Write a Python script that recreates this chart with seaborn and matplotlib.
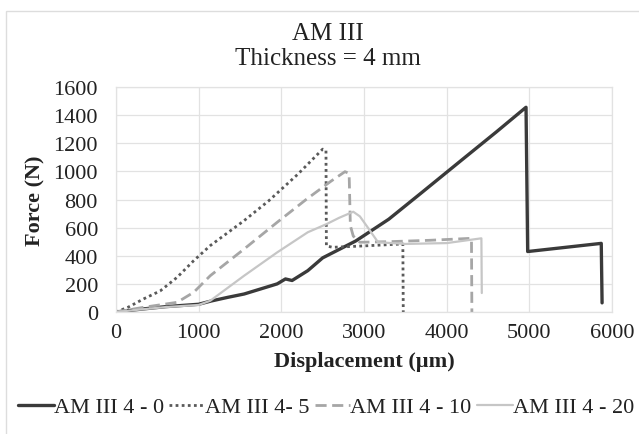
import pandas as pd
import seaborn as sns
import matplotlib.pyplot as plt
from matplotlib.lines import Line2D
from matplotlib.patches import Rectangle

# Datos (desplazamiento en um, fuerza en N)
x_0 = [0, 300, 600, 1000, 1150, 1350, 1550, 1750, 1950, 2050, 2130, 2320, 2500, 2900, 3300, 3700, 4170, 4600, 4960, 4980, 5870, 5880]
y_0 = [0, 20, 38, 55, 78, 104, 128, 164, 200, 235, 224, 294, 385, 505, 660, 850, 1075, 1280, 1456, 430, 488, 65]

x_5 = [0, 150, 330, 535, 740, 940, 1140, 1550, 1850, 2200, 2500, 2540, 2545, 2620, 3000, 3470, 3475]
y_5 = [0, 35, 92, 150, 247, 365, 472, 650, 792, 980, 1158, 1150, 470, 460, 470, 484, 0]

x_10 = [0, 330, 740, 940, 1140, 1550, 1950, 2300, 2600, 2770, 2820, 2835, 2870, 2950, 3300, 3800, 4300, 4305]
y_10 = [0, 33, 69, 140, 258, 448, 638, 800, 930, 998, 985, 614, 540, 496, 500, 510, 524, 0]

x_20 = [0, 300, 600, 1000, 1140, 1550, 1950, 2320, 2550, 2700, 2870, 2950, 3030, 3170, 3500, 4000, 4420, 4425]
y_20 = [0, 18, 35, 50, 80, 258, 424, 567, 626, 670, 713, 680, 614, 496, 484, 490, 524, 135]

series = ['AM III 4 - 0', 'AM III 4- 5', 'AM III 4 - 10', 'AM III 4 - 20']
xs = [x_0, x_5, x_10, x_20]
ys = [y_0, y_5, y_10, y_20]
colores = ['#3a3a3a', '#5a5a5a', '#a6a6a6', '#c6c6c6']
anchos = [2.4, 2.0, 2.0, 1.6]
estilos = [(None, None), (1, 1.2), (4, 2), (None, None)]

sns.set_theme(style='white')
plt.rcParams['font.family'] = ['Liberation Serif', 'DejaVu Serif']

fig = plt.figure(figsize=(6.39, 4.35), dpi=100)
ax = fig.add_axes([116 / 639, 1 - 313 / 435, 496 / 639, 225 / 435])

for nombre, x, y, c, lw, ls in zip(series, xs, ys, colores, anchos, estilos):
    df = pd.DataFrame({'Desplazamiento': x, 'Fuerza': y})
    sns.lineplot(data=df, x='Desplazamiento', y='Fuerza', ax=ax, sort=False,
                 estimator=None, color=c, linewidth=lw)
    l = ax.lines[-1]
    if ls[0] is not None:
        l.set_dashes(ls)

ax.set_xlim(0, 6000)
ax.set_ylim(0, 1600)
ax.set_xticks(range(0, 6001, 1000))
ax.set_yticks(range(0, 1601, 200))
ax.grid(True, color='#e2e2e2', linewidth=0.9)
for s in ax.spines.values():
    s.set_color('#e2e2e2')
    s.set_linewidth(0.9)
ax.tick_params(axis='y', length=0, labelsize=16, colors='#222222', pad=13)
ax.tick_params(axis='x', length=0, labelsize=16, colors='#222222', pad=8)
ax.set_xlabel('Displacement (µm)', fontsize=16, fontweight='bold', color='#222222', va='center')
ax.set_ylabel('Force (N)', fontsize=16, fontweight='bold', color='#222222', va='center')
ax.xaxis.set_label_coords(0.5, (313 - 362) / 225)
ax.yaxis.set_label_coords((35 - 116) / 496, 0.5)

fig.text(327.5 / 639, 1 - 34 / 435, 'AM III', ha='center', va='center', fontsize=18, color='#222222')
fig.text(328 / 639, 1 - 59 / 435, 'Thickness = 4 mm', ha='center', va='center', fontsize=18, color='#222222')

# Marco exterior del grafico
fig.patches.append(Rectangle((6 / 639, -0.05), 1.0, 1 - 12 / 435 + 0.05, transform=fig.transFigure,
                             fill=False, edgecolor='#dddddd', linewidth=1.0))

manejadores = []
for nombre, c, lw, ls in zip(series, colores, anchos, estilos):
    h = Line2D([0], [0], color=c, linewidth=lw)
    if ls[0] is not None:
        h.set_dashes(ls)
    manejadores.append(h)
fig.legend(manejadores, series, loc='center', bbox_to_anchor=(326 / 639, 1 - 408 / 435), ncol=4,
           frameon=False, fontsize=16, handlelength=1.6, handletextpad=0.0, columnspacing=0.25,
           labelcolor='#222222', borderpad=0)

fig.savefig('out.png', dpi=100)
